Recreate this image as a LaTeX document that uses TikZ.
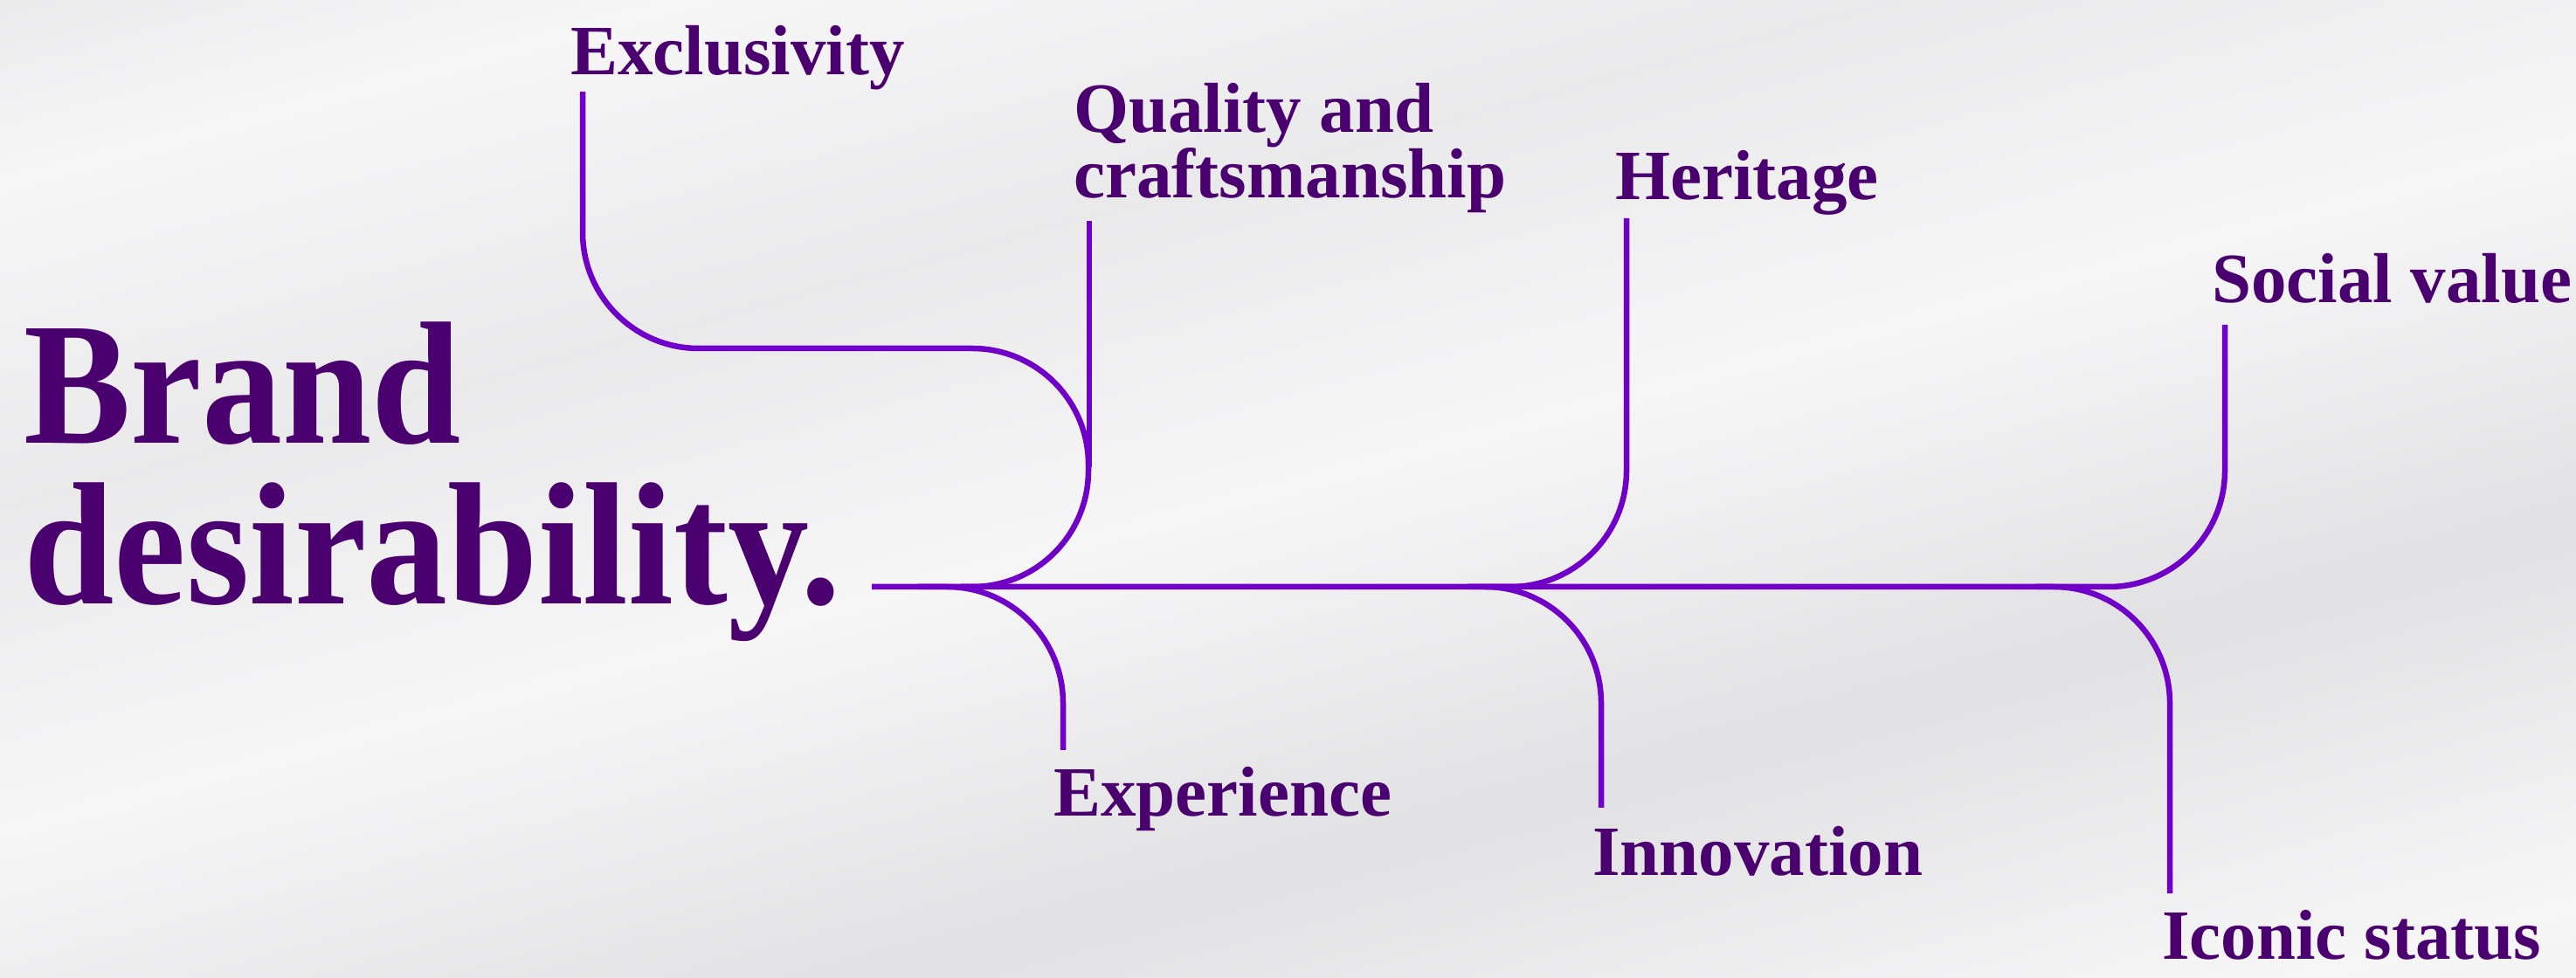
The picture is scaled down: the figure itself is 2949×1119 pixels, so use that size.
\documentclass[tikz,border=0pt]{standalone}
\usepackage{fontspec}
\setmainfont{Liberation Serif}
\usepackage{graphicx}
\usetikzlibrary{positioning,calc}
\definecolor{brandpurple}{RGB}{74,0,110}
\definecolor{linepurple}{RGB}{112,0,200}
\definecolor{bgLight}{RGB}{246,246,247}
\definecolor{bgMid}{RGB}{225,225,227}
\pgfdeclarehorizontalshading{silk}{100bp}{color(0bp)=(bgLight); color(14bp)=(bgMid); color(26bp)=(bgLight); color(38bp)=(bgMid!60!bgLight); color(50bp)=(bgLight); color(64bp)=(bgMid); color(78bp)=(bgLight); color(90bp)=(bgMid!70!bgLight); color(100bp)=(bgMid)}

\begin{document}
\begin{tikzpicture}[x=1pt, y=1pt,
  branch/.style={linepurple, line width=6.5pt, rounded corners=133pt},
  lbl/.style={anchor=base west, inner sep=0pt, text=brandpurple, font=\fontsize{81}{74}\selectfont\bfseries},
  head/.style={anchor=base west, inner sep=0pt, text=brandpurple, font=\fontsize{200}{184}\selectfont\bfseries}]

% background
\shade[shading=silk, shading angle=-75] (0,0) rectangle (2949,1119);
\useasboundingbox (0,0) rectangle (2949,1119);

% title
\node[head] (brand) at (27,611) {\scalebox{0.92}[1]{Brand}};
\node[head] (desir) at (27,427) {\scalebox{0.93}[1]{desirability.}};

% labels
\node[lbl] (excl) at (653,1033) {Exclusivity};
\node[lbl, align=left] (qual) at (1229,892) {Quality and\\craftsmanship};
\node[lbl] (herit) at (1849,890) {Heritage};
\node[lbl] (social) at (2532,772) {Social value};
\node[lbl] (exper) at (1206,184) {Experience};
\node[lbl] (innov) at (1823,117) {Innovation};
\node[lbl] (iconic) at (2475,21) {Iconic status};

% line ends
\coordinate (mainStart) at (998,447);
\coordinate (socTop) at (2547,747);
\coordinate (exTop) at (667,1014);
\coordinate (exBend) at (1246,720);
\coordinate (exJoin) at (1100,447);
\coordinate (qualTop) at (1247,866);
\coordinate (qualEnd) at (1247,584);
\coordinate (herTop) at (1862,869);
\coordinate (herJoin) at (1700,447);
\coordinate (expJoin) at (1050,447);
\coordinate (expEnd) at (1217,260);
\coordinate (innJoin) at (1680,447);
\coordinate (innEnd) at (1833,194);
\coordinate (icoJoin) at (2330,447);
\coordinate (icoEnd) at (2484,96);

\draw[branch] (mainStart) -| (socTop);
\draw[branch] (exTop) |- (exBend) |- (exJoin);
\draw[branch] (qualTop) -- (qualEnd);
\draw[branch] (herTop) |- (herJoin);
\draw[branch] (expJoin) -| (expEnd);
\draw[branch] (innJoin) -| (innEnd);
\draw[branch] (icoJoin) -| (icoEnd);
\end{tikzpicture}
\end{document}
